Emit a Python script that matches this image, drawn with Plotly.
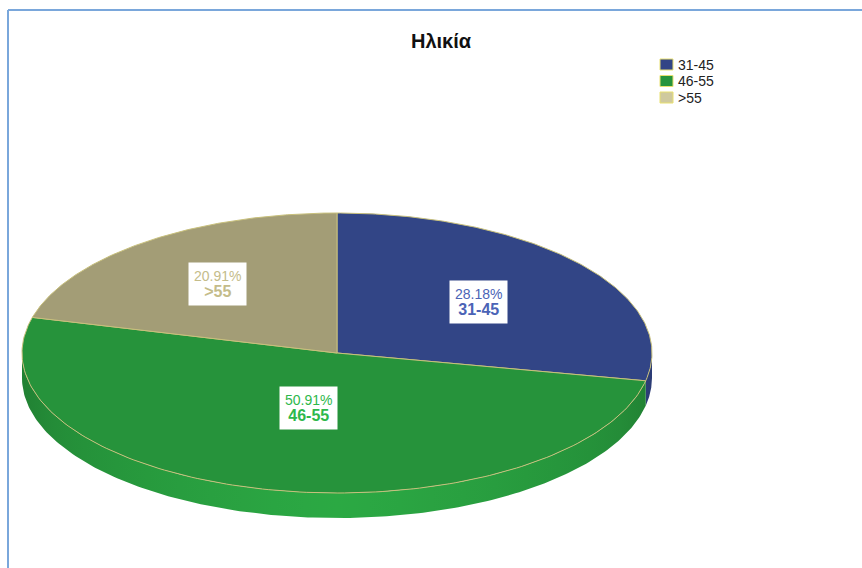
import numpy as np
import plotly.graph_objects as go

# Age groups and respondent counts
categories = ["31-45", "46-55", ">55"]
counts = [31, 56, 23]
title_text = "Ηλικία"

# Styling
top_colors = ["#324586", "#26933B", "#A39D76"]
label_colors = ["#4B63B6", "#2EB84B", "#C4BC8A"]
legend_colors = ["#324586", "#26933B", "#CFC99E"]
edge_color = "#C8C07C"
frame_color = "#7AA7DB"
font_family = "Liberation Sans, Arial"

W, H = 862, 568
cx, cy = 337.0, 353.0      # centre of the top face
rx, ry = 315.0, 140.0      # ellipse radii
depth = 25.0               # thickness of the pie
label_radius = [0.58, 0.40, 0.62]

total = float(sum(counts))
shares = [c / total for c in counts]


def pt(theta_deg, dy=0.0):
    t = np.radians(theta_deg)
    return cx + rx * np.cos(t), cy - ry * np.sin(t) + dy


def hex_to_rgb(h):
    h = h.lstrip("#")
    return [int(h[i:i + 2], 16) for i in (0, 2, 4)]


def shade(hex_color, f):
    r, g, b = hex_to_rgb(hex_color)
    return "rgb({},{},{})".format(*[int(max(0, min(255, v * f))) for v in (r, g, b)])


def wall_scale(hex_color):
    # lighting of the curved wall as a function of horizontal position
    stops = []
    for p in np.linspace(0, 1, 21):
        th = -np.arccos(np.clip(2 * p - 1, -1, 1))
        f = 1.0 + 0.15 * (-np.sin(th)) - 0.12 * abs(np.cos(th))
        stops.append([float(p), shade(hex_color, f)])
    return stops


# slice angle intervals, clockwise from 12 o'clock
starts, ends = [], []
a = 90.0
for s in shares:
    starts.append(a)
    ends.append(a - 360.0 * s)
    a -= 360.0 * s

fig = go.Figure()

# side walls (front half of the ellipse only)
for i in range(len(categories)):
    lo, hi = ends[i], starts[i]
    for vis_lo, vis_hi in [(-180.0, 0.0), (-540.0, -360.0)]:
        a0, a1 = max(lo, vis_lo), min(hi, vis_hi)
        if a1 <= a0:
            continue
        seg = np.linspace(a0, a1, 200)
        xs_t, ys_t = pt(seg)
        xs_b, ys_b = pt(seg[::-1], depth)
        fig.add_trace(go.Scatter(
            x=np.concatenate([xs_t, xs_b]), y=np.concatenate([ys_t, ys_b]),
            fill="toself", mode="lines", line=dict(width=0),
            fillgradient=dict(type="horizontal", colorscale=wall_scale(top_colors[i]),
                              start=cx - rx, stop=cx + rx),
            hoverinfo="skip", showlegend=False))

# top faces
for i, name in enumerate(categories):
    arc = np.linspace(starts[i], ends[i], 160)
    xs, ys = pt(arc)
    fig.add_trace(go.Scatter(
        x=np.concatenate([[cx], xs, [cx]]), y=np.concatenate([[cy], ys, [cy]]),
        fill="toself", fillcolor=top_colors[i], mode="lines",
        line=dict(color=edge_color, width=1), name=name,
        hoverinfo="skip", showlegend=False))

# slice labels
for i, name in enumerate(categories):
    mid = (starts[i] + ends[i]) / 2.0
    t = np.radians(mid)
    lx = cx + label_radius[i] * rx * np.cos(t)
    ly = cy - label_radius[i] * ry * np.sin(t)
    txt = ("<span style='font-size:14px'>{:.2f}%</span><br>"
           "<b><span style='font-size:16px'>{}</span></b>").format(shares[i] * 100, name)
    fig.add_annotation(x=lx, y=ly, xref="x", yref="y", text=txt, showarrow=False,
                       font=dict(family=font_family, color=label_colors[i]),
                       bgcolor="white", borderpad=5, align="center")

# title
fig.add_annotation(x=441, y=41, xref="x", yref="y", text="<b>" + title_text + "</b>",
                   showarrow=False, font=dict(family=font_family, size=20, color="#111111"))

# legend
for i, name in enumerate(categories):
    yc = 64.5 + 16.5 * i
    fig.add_shape(type="rect", x0=660, x1=673, y0=yc - 5.5, y1=yc + 5.5,
                  fillcolor=legend_colors[i],
                  line=dict(color="#E8E070", width=1), xref="x", yref="y")
    fig.add_annotation(x=676, y=yc, xref="x", yref="y", text=name, showarrow=False,
                       xanchor="left", font=dict(family=font_family, size=14, color="#222222"))

# frame
fig.add_shape(type="line", x0=8, x1=W, y0=10, y1=10, line=dict(color=frame_color, width=2), xref="x", yref="y")
fig.add_shape(type="line", x0=8, x1=8, y0=10, y1=H, line=dict(color=frame_color, width=2), xref="x", yref="y")

fig.update_layout(
    width=W, height=H, margin=dict(l=0, r=0, t=0, b=0),
    paper_bgcolor="white", plot_bgcolor="white", showlegend=False,
    xaxis=dict(range=[0, W], visible=False, fixedrange=True),
    yaxis=dict(range=[H, 0], visible=False, fixedrange=True),
)

fig.write_html("out.html")
